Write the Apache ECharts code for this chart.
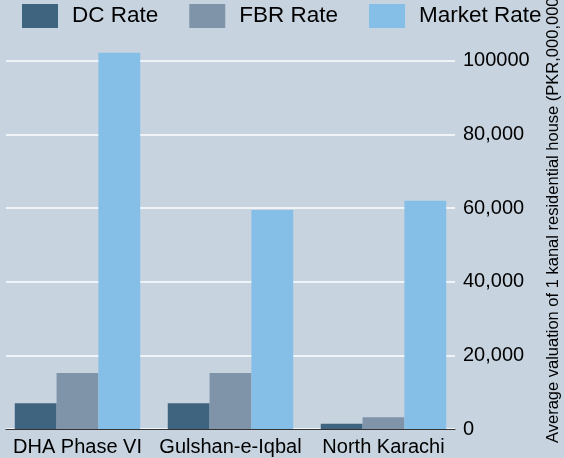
<!DOCTYPE html>
<html>
<head>
<meta charset="utf-8">
<script src="https://cdn.jsdelivr.net/npm/echarts@6/dist/echarts.min.js"></script>
<style>
  html, body { margin: 0; padding: 0; background: #c7d3df; }
  #chart { width: 564px; height: 458px; }
</style>
</head>
<body>
<div id="chart"></div>
<script>
'use strict';
var categories = ['DHA Phase VI', 'Gulshan-e-Iqbal', 'North Karachi'];
var seriesNames = ['DC Rate', 'FBR Rate', 'Market Rate'];
var dcRate = [7000, 7000, 1400];
var fbrRate = [15200, 15200, 3200];
var marketRate = [102200, 59500, 62000];
var yTicks = [0, 20000, 40000, 60000, 80000, 100000];
var yTickLabels = ['0', '20,000', '40,000', '60,000', '80,000', '100000'];
var axisTitle = 'Average valuation of 1 kanal residential house (PKR,000,000)';

var colors = ['#3e6480', '#7f93a9', '#85bfe8'];
var font = '"Liberation Sans", Arial, Helvetica, sans-serif';
var yMax = 110000;

var chart = echarts.init(document.getElementById('chart'));

function tickLabel(v) {
    var i = yTicks.indexOf(v);
    return i < 0 ? '' : yTickLabels[i];
}

chart.setOption({
    backgroundColor: '#c7d3df',
    animation: false,
    textStyle: { fontFamily: font },
    legend: {
        top: 0,
        left: 17,
        padding: [4, 5, 5, 5],
        icon: 'rect',
        itemWidth: 36,
        itemHeight: 24,
        itemGap: 31,
        data: seriesNames,
        textStyle: { fontSize: 22.5, color: '#000', fontFamily: font, padding: [0, 0, 0, 9] }
    },
    grid: [
        { left: 6, right: 109, top: 24, bottom: 29 },
        { left: 1, right: 104, top: 24, bottom: 29 }
    ],
    xAxis: [
        {
            type: 'category', gridIndex: 0, data: categories,
            axisLine: { lineStyle: { color: '#333', width: 1 } },
            axisTick: { show: false },
            axisLabel: { show: false }
        },
        {
            type: 'category', gridIndex: 1, data: categories,
            axisLine: { show: false },
            axisTick: { show: false },
            axisLabel: { interval: 0, hideOverlap: false, fontSize: 20, color: '#000', fontFamily: font, margin: 8 }
        }
    ],
    yAxis: [
        {
            type: 'value', gridIndex: 0, position: 'right',
            min: 0, max: yMax, interval: 20000,
            axisLine: { show: false },
            axisTick: { show: false },
            splitLine: { show: true, showMaxLine: false, lineStyle: { color: '#fff', width: 1.5 } },
            axisLabel: {
                fontSize: 20, color: '#000', fontFamily: font, margin: 8,
                showMaxLabel: false, formatter: tickLabel
            }
        },
        {
            type: 'value', gridIndex: 1, min: 0, max: yMax, show: false
        }
    ],
    graphic: [{
        type: 'text',
        x: 553, y: 443,
        rotation: Math.PI / 2,
        style: {
            text: axisTitle,
            fill: '#000',
            font: '16.5px ' + font,
            textAlign: 'left',
            textVerticalAlign: 'middle'
        }
    }],
    series: [
        { name: seriesNames[0], type: 'bar', xAxisIndex: 1, yAxisIndex: 1, data: dcRate,
          itemStyle: { color: colors[0] }, barGap: '0%', barCategoryGap: '18%' },
        { name: seriesNames[1], type: 'bar', xAxisIndex: 1, yAxisIndex: 1, data: fbrRate,
          itemStyle: { color: colors[1] }, barGap: '0%', barCategoryGap: '18%' },
        { name: seriesNames[2], type: 'bar', xAxisIndex: 1, yAxisIndex: 1, data: marketRate,
          itemStyle: { color: colors[2] }, barGap: '0%', barCategoryGap: '18%' }
    ]
});
</script>
</body>
</html>
